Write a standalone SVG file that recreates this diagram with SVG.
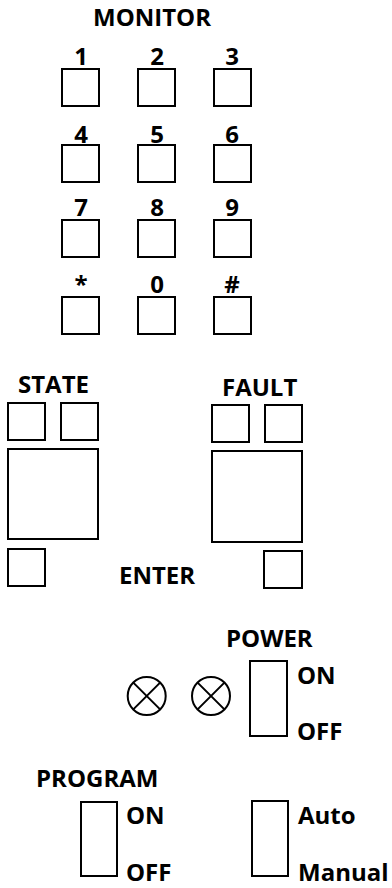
<svg xmlns="http://www.w3.org/2000/svg" width="392" height="888" viewBox="0 0 392 888">
<style>
.b{fill:#fff;stroke:#000;stroke-width:2}
.l{fill:none;stroke:#000;stroke-width:2}
text{font-family:"Open Sans","Liberation Sans",sans-serif;font-weight:bold;font-size:24px;fill:#000}
.c{text-anchor:middle}
</style>
<rect width="392" height="888" fill="#fff"/>
<g id="monitor"><text x="93" y="26">MONITOR</text></g>
<g id="keypad">
<g id="k1"><text class="c" x="81" y="65">1</text><rect class="b" x="62" y="69" width="37" height="37"/></g>
<g id="k2"><text class="c" x="157" y="65">2</text><rect class="b" x="138" y="69" width="37" height="37"/></g>
<g id="k3"><text class="c" x="232" y="65">3</text><rect class="b" x="214" y="69" width="37" height="37"/></g>
<g id="k4"><text class="c" x="81" y="143">4</text><rect class="b" x="62" y="145" width="37" height="37"/></g>
<g id="k5"><text class="c" x="157" y="143">5</text><rect class="b" x="138" y="145" width="37" height="37"/></g>
<g id="k6"><text class="c" x="232" y="143">6</text><rect class="b" x="214" y="145" width="37" height="37"/></g>
<g id="k7"><text class="c" x="81" y="216">7</text><rect class="b" x="62" y="220" width="37" height="37"/></g>
<g id="k8"><text class="c" x="157" y="216">8</text><rect class="b" x="138" y="220" width="37" height="37"/></g>
<g id="k9"><text class="c" x="232" y="216">9</text><rect class="b" x="214" y="220" width="37" height="37"/></g>
<g id="kstar"><text class="c" x="81" y="293">*</text><rect class="b" x="62" y="297" width="37" height="37"/></g>
<g id="k0"><text class="c" x="157" y="293">0</text><rect class="b" x="138" y="297" width="37" height="37"/></g>
<g id="khash"><text class="c" x="232" y="293">#</text><rect class="b" x="214" y="297" width="37" height="37"/></g>
</g>
<g id="state">
<text x="18" y="393">STATE</text>
<rect class="b" x="8" y="403" width="37" height="37"/>
<rect class="b" x="61" y="403" width="37" height="37"/>
<rect class="b" x="8" y="449" width="90" height="90"/>
<rect class="b" x="8" y="549" width="37" height="37"/>
</g>
<g id="fault">
<text x="222" y="396">FAULT</text>
<rect class="b" x="212" y="405" width="37" height="37"/>
<rect class="b" x="265" y="405" width="37" height="37"/>
<rect class="b" x="212" y="451" width="90" height="91"/>
<rect class="b" x="264" y="551" width="38" height="37"/>
</g>
<g id="enter"><text x="119" y="584">ENTER</text></g>
<g id="lamp1"><circle class="l" cx="146.7" cy="696" r="19"/><path class="l" d="M133.3 682.6L160.1 709.4M160.1 682.6L133.3 709.4"/></g>
<g id="lamp2"><circle class="l" cx="211" cy="696" r="19"/><path class="l" d="M197.6 682.6L224.4 709.4M224.4 682.6L197.6 709.4"/></g>
<g id="power">
<text x="226" y="647">POWER</text>
<rect class="b" x="250" y="661" width="37" height="75"/>
<text x="297" y="684">ON</text>
<text x="297" y="740">OFF</text>
</g>
<g id="program">
<text x="36" y="787">PROGRAM</text>
<rect class="b" x="81" y="802" width="36" height="74"/>
<text x="126" y="824">ON</text>
<text x="126" y="881">OFF</text>
</g>
<g id="mode">
<rect class="b" x="252" y="801" width="36" height="75"/>
<text x="298" y="824">Auto</text>
<text x="298" y="881">Manual</text>
</g>
</svg>
